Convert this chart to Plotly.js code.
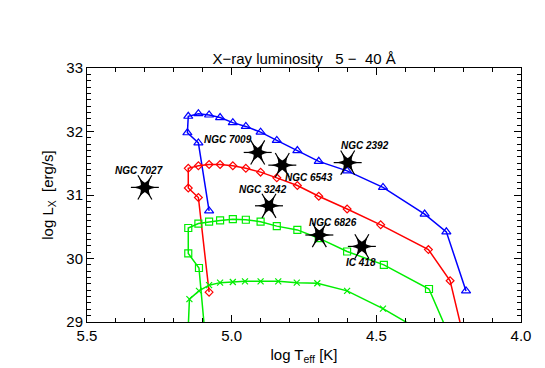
<!DOCTYPE html>
<html>
<head>
<meta charset="utf-8">
<script src="https://cdn.plot.ly/plotly-3.0.1.min.js"></script>
<style>
  html, body { margin: 0; padding: 0; background: #fff; }
  #plot { width: 545px; height: 368px; }
</style>
</head>
<body>
<div id="plot"></div>
<script>
// 進化トラック (log Teff, log Lx)
const blueTeff = [5.078, 5.115, 5.153, 5.150, 5.115, 5.078, 5.040, 4.996, 4.951, 4.900, 4.844, 4.773, 4.699, 4.601, 4.477, 4.333, 4.258, 4.190];
const blueLx   = [30.75, 31.82, 31.98, 32.24, 32.28, 32.26, 32.22, 32.14, 32.08, 31.99, 31.86, 31.70, 31.53, 31.38, 31.12, 30.70, 30.42, 29.49];

const redTeff = [5.078, 5.115, 5.150, 5.150, 5.115, 5.078, 5.040, 4.996, 4.951, 4.900, 4.844, 4.773, 4.699, 4.601, 4.485, 4.320, 4.245, 4.190];
const redLx   = [29.47, 30.96, 31.11, 31.42, 31.46, 31.48, 31.48, 31.46, 31.42, 31.36, 31.27, 31.15, 30.98, 30.78, 30.53, 30.14, 29.65, 28.60];

const greenSqTeff = [5.090, 5.113, 5.150, 5.150, 5.115, 5.078, 5.040, 4.996, 4.951, 4.900, 4.844, 4.773, 4.699, 4.601, 4.474, 4.318, 4.240];
const greenSqLx   = [28.70, 29.85, 30.08, 30.48, 30.55, 30.58, 30.60, 30.62, 30.61, 30.58, 30.51, 30.45, 30.32, 30.11, 29.90, 29.52, 28.70];

const greenXTeff = [5.152, 5.146, 5.113, 5.078, 5.040, 4.996, 4.954, 4.900, 4.839, 4.775, 4.704, 4.601, 4.477, 4.360];
const greenXLx   = [28.70, 29.36, 29.49, 29.58, 29.62, 29.63, 29.64, 29.64, 29.64, 29.62, 29.61, 29.49, 29.21, 28.90];

// 観測天体
const pnNames = ['NGC 7027', 'NGC 7009', 'NGC 6543', 'NGC 2392', 'NGC 3242', 'NGC 6826', 'IC 418'];
const pnTeff  = [5.300, 4.910, 4.825, 4.599, 4.871, 4.697, 4.550];
const pnLx    = [31.12, 31.67, 31.47, 31.51, 30.83, 30.37, 30.19];
const labelTeff = [5.319, 5.013, 4.732, 4.538, 4.893, 4.651, 4.552];
const labelLx   = [31.38, 31.87, 31.28, 31.78, 31.09, 30.56, 29.93];

function track(x, y, color, symbol, size) {
    return {
        x: x, y: y,
        type: 'scatter',
        mode: 'lines+markers',
        line: { color: color, width: 1.5 },
        marker: { symbol: symbol, size: size, color: color, line: { color: color, width: 1.2 } },
        hoverinfo: 'skip'
    };
}

// 星形マーカーの一部（同じ位置に重ねて描く）
function starPart(symbol, size, angle, lineWidth) {
    return {
        x: pnTeff, y: pnLx, type: 'scatter', mode: 'markers',
        marker: { symbol: symbol, size: size, angle: angle, color: '#000', line: { color: '#000', width: lineWidth } },
        hoverinfo: 'skip'
    };
}

const traces = [
    track(blueTeff, blueLx, '#0000ff', 'triangle-up-open', 8),
    track(redTeff, redLx, '#ff0000', 'diamond-open', 6),
    track(greenSqTeff, greenSqLx, '#00ee00', 'square-open', 7),
    track(greenXTeff, greenXLx, '#00ee00', 'x-thin-open', 6),
    // 6本の細いとげ + 中心部
    starPart('line-ew-open', 20, 0, 1.2),
    starPart('line-ew-open', 20, 60, 1.2),
    starPart('line-ew-open', 20, 120, 1.2),
    starPart('star-triangle-up', 14, 90, 0),
    starPart('star-triangle-down', 14, 90, 0)
];

const annotations = pnNames.map((name, i) => ({
    x: labelTeff[i], y: labelLx[i],
    xref: 'x', yref: 'y',
    text: name,
    showarrow: false,
    font: { family: 'Liberation Sans, Arial, sans-serif', size: 10, color: '#000', weight: 'bold', style: 'italic' }
}));

const axisCommon = {
    showline: true,
    mirror: 'ticks',
    linecolor: '#000',
    linewidth: 1,
    ticks: 'inside',
    ticklen: 7,
    tickcolor: '#000',
    showgrid: false,
    zeroline: false,
    tickfont: { size: 15, color: '#000' }
};

const layout = {
    width: 545,
    height: 368,
    paper_bgcolor: '#fff',
    plot_bgcolor: '#fff',
    font: { family: 'Liberation Sans, Arial, sans-serif', color: '#000' },
    showlegend: false,
    title: {
        text: 'X\u2212ray luminosity\u00a0\u00a0 5 \u2212\u00a0 40 \u00c5',
        font: { size: 15, color: '#000' },
        x: 0.558, xanchor: 'center',
        y: 0.84, yanchor: 'middle'
    },
    xaxis: Object.assign({}, axisCommon, {
        range: [5.5, 4.0],
        tickvals: [5.5, 5.0, 4.5, 4.0],
        ticktext: ['5.5', '5.0', '4.5', '4.0'],
        minor: { dtick: 0.1, ticks: 'inside', ticklen: 4, tickcolor: '#000' },
        title: { text: 'log T<sub>eff</sub> [K]', font: { size: 15 }, standoff: 6 }
    }),
    yaxis: Object.assign({}, axisCommon, {
        range: [29, 33],
        dtick: 1,
        minor: { dtick: 0.1, ticks: 'inside', ticklen: 4, tickcolor: '#000' },
        title: { text: 'log L<sub>X</sub>  [erg/s]', font: { size: 15 }, standoff: 9 }
    }),
    annotations: annotations,
    margin: { l: 87, r: 24, t: 68, b: 46 }
};

Plotly.newPlot('plot', traces, layout, { staticPlot: true });
</script>
</body>
</html>
